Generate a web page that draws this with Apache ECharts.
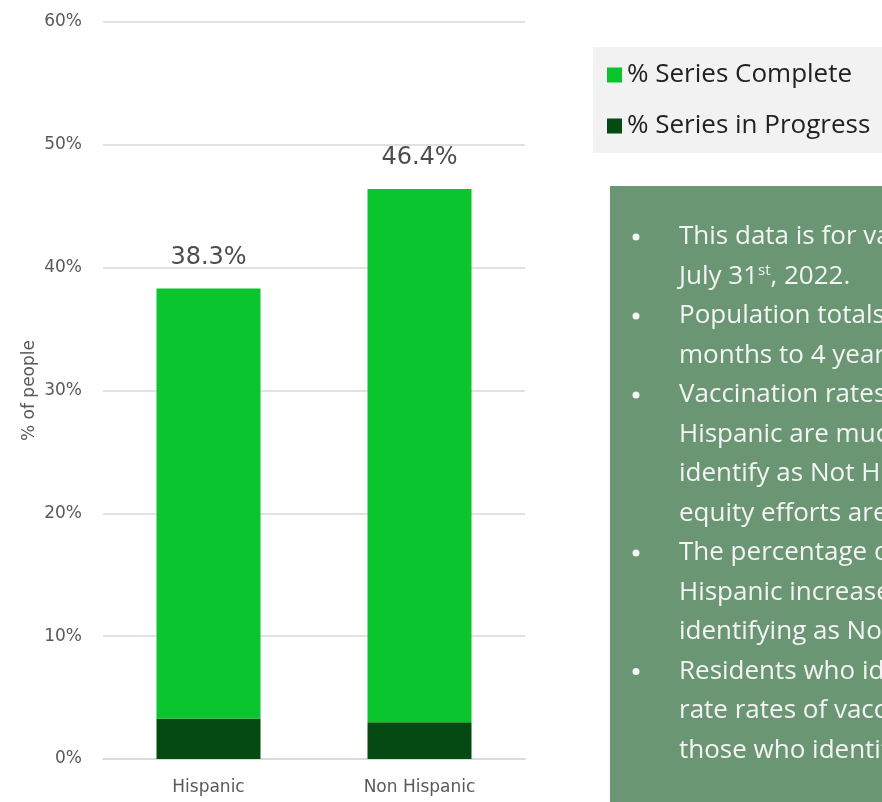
<!DOCTYPE html>
<html>
<head>
<meta charset="utf-8">
<script src="https://cdn.jsdelivr.net/npm/echarts@6/dist/echarts.min.js"></script>
<style>
html,body{margin:0;padding:0;background:#fff;}
#chart{width:882px;height:802px;}
</style>
</head>
<body>
<div id="chart"></div>
<script>
const categories = ['Hispanic', 'Non Hispanic']
const seriesInProgress = [3.3, 3.0]
const seriesComplete = [35.0, 43.4]
const totalLabels = ['38.3%', '46.4%']
const yTicks = [0, 10, 20, 30, 40, 50, 60]
const noteLines = [
    ['•', 'This data is for vaccinations administered through'],
    ['', 'July 31{sup|st}, 2022.'],
    ['•', 'Population totals include residents aged 6'],
    ['', 'months to 4 years old.'],
    ['•', 'Vaccination rates among residents who identify as'],
    ['', 'Hispanic are much lower than among those who'],
    ['', 'identify as Not Hispanic, so vaccine'],
    ['', 'equity efforts are ongoing.'],
    ['•', 'The percentage of residents identifying as'],
    ['', 'Hispanic increased at a lower rate than those'],
    ['', 'identifying as Not Hispanic.'],
    ['•', 'Residents who identify as Hispanic have a lower'],
    ['', 'rate rates of vaccination series completion than'],
    ['', 'those who identify as Not Hispanic.']
]

const colors = ['#0bc52f', '#064a13', '#6a9674', '#595959']
const mychart = echarts.init(document.getElementById('chart'))

const noteGraphics = []
noteLines.forEach((l, i) => {
    const y = 237 + i * 39.5
    if (l[0]) {
        noteGraphics.push({
            type: 'circle', shape: { cx: 636, cy: y, r: 3.5 },
            style: { fill: '#f4f4f4' }, z: 10
        })
    }
    noteGraphics.push({
        type: 'text', x: 679, y: y, z: 10,
        style: {
            text: l[1], fill: '#f4f4f4', font: '26px "Open Sans"', verticalAlign: 'middle',
            rich: { sup: { fontSize: 15, fill: '#f4f4f4', fontFamily: 'Open Sans', padding: [0, 0, 12, 0] } }
        }
    })
})

const option = {
    animation: false,
    grid: { left: 103, right: 357, top: 22, bottom: 43 },
    legend: {
        orient: 'vertical',
        left: 602, top: 57,
        icon: 'rect',
        itemWidth: 15, itemHeight: 15,
        itemGap: 25,
        textStyle: { fontSize: 26, color: '#222', fontFamily: 'Open Sans', padding: [0, 0, 0, 0] },
        data: ['% Series Complete', '% Series in Progress']
    },
    xAxis: {
        type: 'category',
        data: categories,
        axisTick: { show: false },
        axisLine: { lineStyle: { color: '#d9d9d9', width: 1.5 } },
        axisLabel: { color: colors[3], fontSize: 17, fontFamily: 'DejaVu Sans', margin: 20 }
    },
    yAxis: {
        type: 'value',
        min: 0, max: 60, interval: 10,
        name: '% of people',
        nameLocation: 'middle',
        nameGap: 65,
        nameTextStyle: { color: colors[3], fontSize: 17, fontFamily: 'DejaVu Sans' },
        axisLine: { show: false },
        axisTick: { show: false },
        axisLabel: {
            color: colors[3], fontSize: 17, fontFamily: 'DejaVu Sans', margin: 21,
            formatter: v => yTicks.includes(v) ? v + '%' : ''
        },
        splitLine: { lineStyle: { color: '#d9d9d9', width: 1.5 } }
    },
    series: [
        {
            name: '% Series in Progress', type: 'bar', stack: 'all',
            barWidth: 104,
            itemStyle: { color: colors[1] },
            data: seriesInProgress
        },
        {
            name: '% Series Complete', type: 'bar', stack: 'all',
            itemStyle: { color: colors[0] },
            label: {
                show: true, position: 'top', distance: 19,
                fontSize: 24, color: '#4d4d4d', fontFamily: 'DejaVu Sans',
                formatter: p => totalLabels[p.dataIndex]
            },
            data: seriesComplete
        }
    ],
    graphic: [
        {
            type: 'rect', shape: { x: 593, y: 47, width: 300, height: 106 },
            style: { fill: '#f2f2f2' }, z: -10
        },
        {
            type: 'rect', shape: { x: 610, y: 186, width: 300, height: 620 },
            style: { fill: colors[2] }, z: 5
        }
    ].concat(noteGraphics)
}
mychart.setOption(option)
</script>
</body>
</html>
